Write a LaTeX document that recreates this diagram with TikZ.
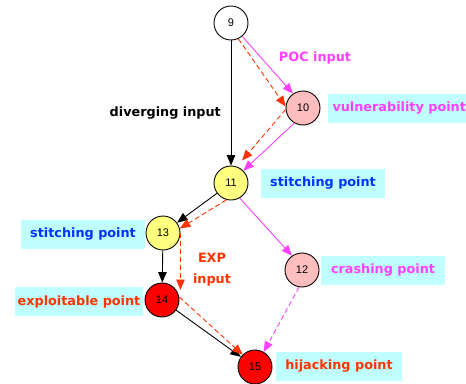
\documentclass[tikz,border=0pt]{standalone}
\usepackage{fontspec}
\setmainfont{DejaVu Sans}
\newfontfamily\numfont{Liberation Sans}
\usetikzlibrary{calc,positioning,arrows.meta}
\tikzset{>={Triangle[length=10.5pt,width=8.5pt]}}
\definecolor{pocmag}{RGB}{255,64,255}
\definecolor{expred}{RGB}{255,51,0}
\definecolor{stitchblue}{RGB}{0,51,255}
\definecolor{boxcyan}{RGB}{192,255,255}
\definecolor{vulnpink}{RGB}{255,190,190}
\definecolor{stitchyel}{RGB}{255,255,128}
\tikzset{
  pt/.style={circle,draw,line width=0.9pt,minimum size=34pt,inner sep=0pt,font=\numfont\fontsize{11}{13}\selectfont},
  ptbox/.style={fill=boxcyan,minimum width=124pt,minimum height=29pt,inner xsep=2pt,font=\bfseries\fontsize{12.8}{15}\selectfont},
  lbl/.style={inner sep=1pt,font=\bfseries\fontsize{12.8}{21}\selectfont},
  flow/.style={->,line width=0.9pt},
  pocflow/.style={->,line width=0.9pt,pocmag},
  expflow/.style={->,line width=0.9pt,expred,dash pattern=on 5pt off 3pt},
}

\begin{document}
\begin{tikzpicture}[x=1pt,y=-1pt]
  \useasboundingbox (0,0) rectangle (466,383);
  % path points
  \node[pt] (n9) at (231,23) {9};
  \node[pt,fill=vulnpink] (n10) at (303,108) {10};
  \node[pt,fill=stitchyel] (n11) at (231,183) {11};
  \node[pt,fill=vulnpink] (n12) at (302,270) {12};
  \node[pt,fill=stitchyel] (n13) at (163,233) {13};
  \node[pt,fill=red] (n14) at (162,300) {14};
  \node[pt,fill=red] (n15) at (255,367) {15};
  %
  \node[ptbox,text=pocmag,anchor=west,minimum width=142pt] (vuln) at (328,108) {vulnerability point};
  \node[ptbox,text=stitchblue] (stitchA) at (323,183) {stitching point};
  \node[ptbox,text=stitchblue] (stitchB) at (83,234.5) {stitching point};
  \node[ptbox,text=pocmag] (crash) at (383,270.5) {crashing point};
  \node[ptbox,text=expred,minimum width=128pt] (exploit) at (79,301.5) {exploitable point};
  \node[ptbox,text=expred,minimum width=126pt] (hijack) at (339,366.5) {hijacking point};
  \node[lbl,text=pocmag] (poc) at (315,58) {POC input};
  \node[lbl,anchor=east] (div) at (222,113) {diverging input};
  \node[lbl,text=expred,align=center] (exp) at (212,270) {EXP\\input};
  %
  \draw[flow] (n9) -- (n11);
  \draw[flow] (n11) -- (n13);
  \draw[flow] (n13) -- (n14);
  \draw[flow] (n14) -- (n15);
  %
  \draw[pocflow] (n9.-50) -- (n10.125);
  \draw[pocflow] (n10.-120) -- (n11.45);
  \draw[pocflow] (n11.-60) -- (n12.125);
  \draw[pocflow,dash pattern=on 5pt off 3pt] (n12.-100) -- (n15.60);
  %
  \draw[expflow] (n9.-65) -- (n10.175);
  \draw[expflow,shorten >=8pt] (n10.185) -- (n11.70);
  \draw[expflow] (n11.-105) -- (n13.15);
  \draw[expflow,shorten >=10pt] (n13.east) -- (n13.east |- n14.center);
  \draw[expflow] (n14.10) -- (n15.135);
\end{tikzpicture}
\end{document}
